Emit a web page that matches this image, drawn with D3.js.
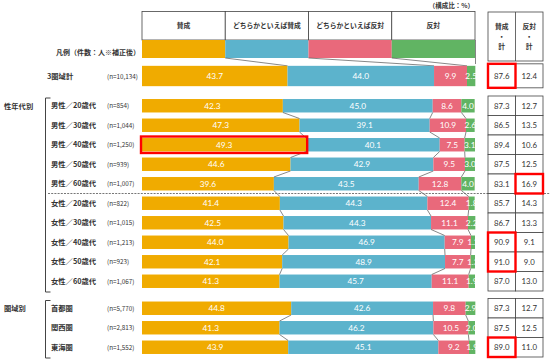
<!DOCTYPE html>
<html>
<head>
<meta charset="utf-8">
<script src="https://cdn.jsdelivr.net/npm/d3@7"></script>
<style>
  body { margin: 0; background: #fff; }
  text { font-family: "Noto Sans CJK JP", sans-serif; }
  .num { font-family: Lato, "DejaVu Sans", sans-serif; }
</style>
</head>
<body>
<svg></svg>
<script>
// categories
var series = ["賛成", "どちらかといえば賛成", "どちらかといえば反対", "反対"];
var rows = ["3圏域計",
  "男性／20歳代", "男性／30歳代", "男性／40歳代", "男性／50歳代", "男性／60歳代",
  "女性／20歳代", "女性／30歳代", "女性／40歳代", "女性／50歳代", "女性／60歳代",
  "首都圏", "関西圏", "東海圏"];
var rowGroup = ["total", "sex", "sex", "sex", "sex", "sex", "sex", "sex", "sex", "sex", "sex", "area", "area", "area"];
var nLabels = ["(n=10,134)", "(n=854)", "(n=1,044)", "(n=1,250)", "(n=939)", "(n=1,007)",
  "(n=822)", "(n=1,015)", "(n=1,213)", "(n=923)", "(n=1,067)", "(n=5,770)", "(n=2,813)", "(n=1,552)"];

// values (%)
var agree        = [43.7, 42.3, 47.3, 49.3, 44.6, 39.6, 41.4, 42.5, 44.0, 42.1, 41.3, 44.8, 41.3, 43.9];
var leanAgree    = [44.0, 45.0, 39.1, 40.1, 42.9, 43.5, 44.3, 44.3, 46.9, 48.9, 45.7, 42.6, 46.2, 45.1];
var leanDisagree = [9.9, 8.6, 10.9, 7.5, 9.5, 12.8, 12.4, 11.1, 7.9, 7.7, 11.1, 9.8, 10.5, 9.2];
var disagree     = [2.5, 4.0, 2.6, 3.1, 3.0, 4.0, 1.8, 2.2, 1.2, 1.3, 1.9, 2.9, 2.0, 1.9];
var agreeTotal    = [87.6, 87.3, 86.5, 89.4, 87.5, 83.1, 85.7, 86.7, 90.9, 91.0, 87.0, 87.3, 87.5, 89.0];
var disagreeTotal = [12.4, 12.7, 13.5, 10.6, 12.5, 16.9, 14.3, 13.3, 9.1, 9.0, 13.0, 12.7, 12.5, 11.0];

// red highlight boxes
var hiBars = ["男性／40歳代"];
var hiAgreeTotal = [["3圏域計"], ["女性／40歳代", "女性／50歳代"], ["東海圏"]];
var hiDisagreeTotal = [["男性／60歳代"]];

var colors = ["#f0ab00", "#5cb3cc", "#e9697b", "#61b463"];

var width = 550, height = 362;
var svg = d3.select("svg").attr("width", width).attr("height", height);

var data = rows.map(function (r, i) {
  return { row: r, group: rowGroup[i], n: nLabels[i],
    "賛成": agree[i], "どちらかといえば賛成": leanAgree[i],
    "どちらかといえば反対": leanDisagree[i], "反対": disagree[i],
    at: agreeTotal[i], dt: disagreeTotal[i] };
});
var stacked = d3.stack().keys(series)(data);

var x = d3.scaleLinear().domain([0, 100]).range([142, 475]);

// one band scale per group
var bands = {
  total: d3.scaleBand().domain(rows.filter(function (r, i) { return rowGroup[i] == "total"; })).range([64, 88]).paddingInner(0).paddingOuter(0.09),
  sex: d3.scaleBand().domain(rows.filter(function (r, i) { return rowGroup[i] == "sex"; })).range([96, 291]).paddingInner(0.31).paddingOuter(0.155),
  area: d3.scaleBand().domain(rows.filter(function (r, i) { return rowGroup[i] == "area"; })).range([298.5, 357]).paddingInner(0.31).paddingOuter(0.155)
};
function yTop(d) { return bands[d.group](d.row); }
function bh(d) { return bands[d.group].bandwidth(); }
function yMid(d) { return yTop(d) + bh(d) / 2; }
function cellTop(d) { var b = bands[d.group]; return b(d.row) - b.step() * b.paddingInner() / 2 - (d.group == "total" ? 2 : 0); }
function cellH(d) { var b = bands[d.group]; return d.group == "total" ? 24 : b.step(); }

// legend header
var cellW = (x(100) - x(0)) / 4;
var lg = svg.append("g");
lg.selectAll("rect.hd").data(series).enter().append("rect")
  .attr("x", function (d, i) { return x(0) + i * cellW; })
  .attr("y", 11.5).attr("width", cellW).attr("height", 28.5)
  .attr("fill", "#fff").attr("stroke", "#444").attr("stroke-width", 0.8);
lg.selectAll("text.hd").data(series).enter().append("text")
  .attr("x", function (d, i) { return x(0) + (i + 0.5) * cellW; })
  .attr("y", 28).attr("text-anchor", "middle")
  .attr("font-size", 6.8).attr("font-weight", "bold").attr("fill", "#333")
  .text(function (d) { return d; });
lg.selectAll("rect.lb").data(series).enter().append("rect")
  .attr("x", function (d, i) { return x(0) + i * cellW; })
  .attr("y", 40).attr("width", cellW).attr("height", 18)
  .attr("fill", function (d, i) { return colors[i]; });
lg.append("line").attr("x1", x(100) + 0.5).attr("x2", x(100) + 0.5).attr("y1", 40).attr("y2", 64)
  .attr("stroke", "#666").attr("stroke-width", 0.8);
// legend connectors to 3圏域計 bar
var tot = data[0];
[1, 2, 3].forEach(function (k) {
  lg.append("line")
    .attr("x1", x(0) + k * cellW).attr("y1", 58)
    .attr("x2", x(stacked[k - 1][0][1])).attr("y2", yTop(tot))
    .attr("stroke", "#555").attr("stroke-width", 0.7);
});

svg.append("text").attr("x", 140).attr("y", 55).attr("text-anchor", "end")
  .attr("font-size", 7).attr("font-weight", "bold").attr("fill", "#333")
  .text("凡例（件数：人※補正後）");
svg.append("text").attr("x", 474).attr("y", 8).attr("text-anchor", "end")
  .attr("font-size", 6.5).attr("font-weight", "bold").attr("fill", "#333")
  .text("（構成比：%）");

// bars
var bars = svg.append("g");
stacked.forEach(function (s, k) {
  bars.selectAll("rect.s" + k).data(s).enter().append("rect")
    .attr("x", function (d) { return x(d[0]); })
    .attr("y", function (d) { return yTop(d.data); })
    .attr("width", function (d) { return x(d[1]) - x(d[0]); })
    .attr("height", function (d) { return bh(d.data); })
    .attr("fill", colors[k]);
  bars.selectAll("text.s" + k).data(s).enter().append("text")
    .attr("class", "num")
    .attr("x", function (d) { return (x(d[0]) + x(d[1])) / 2; })
    .attr("y", function (d) { return yMid(d.data) + 3; })
    .attr("text-anchor", "middle").attr("font-size", 8.3).attr("fill", "#fff")
    .text(function (d) { return d.data[series[k]].toFixed(1); });
});

// series lines between consecutive bars of the same group
for (var i = 1; i < data.length; i++) {
  if (data[i].group != data[i - 1].group || data[i].group == "total") continue;
  for (var k = 0; k < 3; k++) {
    bars.append("line")
      .attr("x1", x(stacked[k][i - 1][1])).attr("y1", yTop(data[i - 1]) + bh(data[i - 1]))
      .attr("x2", x(stacked[k][i][1])).attr("y2", yTop(data[i]))
      .attr("stroke", "#555").attr("stroke-width", 0.7);
  }
}

// left labels
var lab = svg.append("g");
lab.selectAll("text.row").data(data).enter().append("text")
  .attr("x", function (d) { return d.group == "total" ? 47 : 51; })
  .attr("y", function (d) { return yMid(d) + 2.5; })
  .attr("font-size", 7.3).attr("font-weight", "bold").attr("fill", "#333")
  .text(function (d) { return d.row; });
lab.selectAll("text.n").data(data).enter().append("text")
  .attr("x", 107)
  .attr("y", function (d) { return yMid(d) + 2.5; })
  .attr("font-size", 6.3).attr("fill", "#333")
  .text(function (d) { return d.n; });

var groupNames = [["sex", "性年代別"], ["area", "圏域別"]];
groupNames.forEach(function (g) {
  var b = bands[g[0]];
  var top = b.range()[0] + 2, bot = b.range()[1] + 1;
  lab.append("text").attr("x", 4).attr("y", b(b.domain()[0]) + b.bandwidth() / 2 + 3)
    .attr("font-size", 7.3).attr("font-weight", "bold").attr("fill", "#333").text(g[1]);
  lab.append("path").attr("d", "M50.5," + top + "H45.5V" + bot + "H50.5")
    .attr("fill", "none").attr("stroke", "#444").attr("stroke-width", 1);
});

// dashed separator between men and women
var m60 = data[5], f20 = data[6];
var sepY = (yTop(m60) + bh(m60) + yTop(f20)) / 2;
svg.append("line").attr("x1", 48).attr("x2", 550).attr("y1", sepY).attr("y2", sepY)
  .attr("stroke", "#777").attr("stroke-width", 1).attr("stroke-dasharray", "2,1.2");

// right table
var tx = [488, 515.5, 543];
var tb = svg.append("g");
tb.append("rect").attr("x", tx[0]).attr("y", 12).attr("width", tx[2] - tx[0]).attr("height", 49)
  .attr("fill", "#fff").attr("stroke", "#444").attr("stroke-width", 0.8);
tb.append("line").attr("x1", tx[1]).attr("x2", tx[1]).attr("y1", 12).attr("y2", 61)
  .attr("stroke", "#444").attr("stroke-width", 0.8);
[["賛成", "・", "計"], ["反対", "・", "計"]].forEach(function (h, j) {
  h.forEach(function (t, m) {
    tb.append("text").attr("x", (tx[j] + tx[j + 1]) / 2).attr("y", 29 + m * 10)
      .attr("text-anchor", "middle").attr("font-size", 6.8).attr("font-weight", "bold")
      .attr("fill", "#333").text(t);
  });
});
[0, 1].forEach(function (j) {
  tb.selectAll("rect.c" + j).data(data).enter().append("rect")
    .attr("x", tx[j]).attr("y", cellTop).attr("width", tx[j + 1] - tx[j]).attr("height", cellH)
    .attr("fill", "#fff").attr("stroke", "#444").attr("stroke-width", 0.8);
  tb.selectAll("text.c" + j).data(data).enter().append("text")
    .attr("class", "num")
    .attr("x", (tx[j] + tx[j + 1]) / 2)
    .attr("y", function (d) { return yMid(d) + 3; })
    .attr("text-anchor", "middle").attr("font-size", 7.8).attr("fill", "#333")
    .text(function (d) { return (j == 0 ? d.at : d.dt).toFixed(1); });
});

// highlights
var red = svg.append("g").attr("fill", "none").attr("stroke", "#ff0000").attr("stroke-width", 2.4);
hiBars.forEach(function (r) {
  var i = rows.indexOf(r), d = data[i];
  red.append("rect").attr("x", x(0) - 1).attr("y", yTop(d) - 1.5)
    .attr("width", x(stacked[0][i][1]) - x(0) + 2).attr("height", bh(d) + 3);
});
function hiCells(list, j) {
  list.forEach(function (set) {
    var a = data[rows.indexOf(set[0])], b = data[rows.indexOf(set[set.length - 1])];
    red.append("rect").attr("x", tx[j]).attr("y", cellTop(a))
      .attr("width", tx[j + 1] - tx[j]).attr("height", cellTop(b) + cellH(b) - cellTop(a));
  });
}
hiCells(hiAgreeTotal, 0);
hiCells(hiDisagreeTotal, 1);
</script>
</body>
</html>
